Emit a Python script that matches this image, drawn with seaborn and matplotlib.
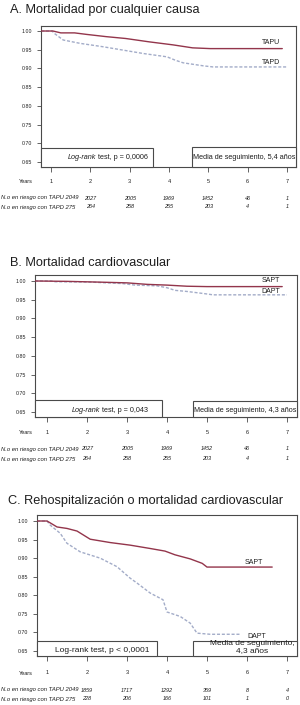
import numpy as np
import pandas as pd
import matplotlib
matplotlib.use("Agg")
import matplotlib.pyplot as plt
import matplotlib.transforms as mtrans
from matplotlib.patches import Rectangle
from matplotlib.text import Annotation
import seaborn as sns

# ---------------- data ----------------
years = [1, 2, 3, 4, 5, 6, 7]
risk_years = [2, 3, 4, 5, 6, 7]
yticks = [0.65, 0.70, 0.75, 0.80, 0.85, 0.90, 0.95, 1.00]

# Panel A
a_single_t = [0.75, 1.05, 1.25, 1.6, 1.9, 2.4, 2.9, 3.5, 4.1, 4.6, 5.05, 6.88]
a_single_s = [1.000, 1.000, 0.995, 0.995, 0.991, 0.985, 0.980, 0.971, 0.963, 0.955, 0.953, 0.953]
a_dual_t = [0.75, 1.03, 1.08, 1.31, 1.74, 2.32, 2.83, 3.34, 3.95, 4.16, 4.36, 4.87, 5.12, 7.0]
a_dual_s = [1.000, 1.000, 0.994, 0.976, 0.967, 0.958, 0.949, 0.940, 0.931, 0.922, 0.915, 0.907, 0.904, 0.904]

# Panel B
b_single_t = [0.70, 1.5, 2.3, 3.0, 3.5, 4.0, 4.5, 5.0, 6.88]
b_single_s = [1.000, 0.999, 0.997, 0.995, 0.991, 0.989, 0.986, 0.985, 0.985]
b_dual_t = [0.70, 1.1, 1.2, 2.1, 2.9, 3.2, 3.75, 4.0, 4.2, 4.5, 4.95, 5.15, 7.0]
b_dual_s = [1.000, 1.000, 0.998, 0.997, 0.993, 0.989, 0.987, 0.982, 0.975, 0.972, 0.966, 0.963, 0.963]

# Panel C
c_single_t = [0.75, 1.0, 1.08, 1.25, 1.5, 1.75, 2.08, 2.58, 3.08, 3.58, 3.95, 4.2, 4.58, 4.88, 5.0, 6.63]
c_single_s = [1.000, 1.000, 0.995, 0.984, 0.980, 0.973, 0.951, 0.942, 0.935, 0.926, 0.919, 0.909, 0.898, 0.886, 0.876, 0.876]
c_dual_t = [0.75, 1.0, 1.08, 1.33, 1.5, 1.83, 2.33, 2.75, 3.08, 3.25, 3.58, 3.9, 4.0, 4.33, 4.58, 4.75, 5.08, 5.85]
c_dual_s = [1.000, 1.000, 0.989, 0.967, 0.940, 0.917, 0.900, 0.877, 0.846, 0.833, 0.806, 0.788, 0.755, 0.743, 0.725, 0.698, 0.695, 0.695]

risk_a_single = [2027, 2005, 1969, 1452, 46, 1]
risk_a_dual = [264, 258, 255, 203, 4, 1]
risk_b_single = [2027, 2005, 1969, 1452, 46, 1]
risk_b_dual = [264, 258, 255, 203, 4, 1]
risk_c_single = [1859, 1717, 1292, 359, 8, 4]
risk_c_dual = [228, 206, 166, 101, 1, 0]

titles = ["A. Mortalidad por cualquier causa",
          "B. Mortalidad cardiovascular",
          "C. Rehospitalización o mortalidad cardiovascular"]
curve_labels = [("TAPU", "TAPD"), ("SAPT", "DAPT"), ("SAPT", "DAPT")]
pvals = ["p = 0,0006", "p = 0,043", "p < 0,0001"]
followups = ["Media de seguimiento, 5,4 años",
             "Media de seguimiento, 4,3 años",
             "Media de seguimiento,\n4,3 años"]
risk_row_labels = ["N.o en riesgo con TAPU 2049", "N.o en riesgo con TAPD 275"]

series = [(a_single_t, a_single_s, a_dual_t, a_dual_s),
          (b_single_t, b_single_s, b_dual_t, b_dual_s),
          (c_single_t, c_single_s, c_dual_t, c_dual_s)]
risks = [(risk_a_single, risk_a_dual), (risk_b_single, risk_b_dual), (risk_c_single, risk_c_dual)]

# ---------------- style ----------------
sns.set_theme(style="white")
plt.rcParams["font.family"] = ["Liberation Sans", "DejaVu Sans"]

W, H = 300, 705
fig = plt.figure(figsize=(W / 100, H / 100), dpi=100)
fig.patch.set_facecolor("white")

def fx(px):
    return px / W

def fy(py):
    return 1 - py / H

RED = "#93354b"
BLUE = "#a3acc8"
EDGE = "#4a4a4a"
TXT = "#1e1e1e"

# layout (pixels)
layout = [
    dict(box=(41, 26, 296, 167), xlim=(0.746, 7.229), ylim=(0.6366, 1.0134),
         title_x=10, title_base=12.5, tickpad=5.0, risk_y=(198, 207),
         lab1=(271, 43), lab2=(271, 63),
         lr_box=(153, 148), lr_x=68, lr_y=157.5, lr_fs=5.2, lr_italic=True,
         fu_box=(192, 147), fu_xy=(244.5, 157.5), fu_fs=5.2),
    dict(box=(35, 275, 297, 417), xlim=(0.70, 7.25), ylim=(0.6366, 1.016),
         title_x=10, title_base=265.7, tickpad=5.4, risk_y=(449, 459),
         lab1=(271, 281), lab2=(271, 291),
         lr_box=(162, 400), lr_x=72, lr_y=411, lr_fs=5.2, lr_italic=True,
         fu_box=(193, 401), fu_xy=(245, 411), fu_fs=5.2),
    dict(box=(37, 515, 297, 656), xlim=(0.75, 7.25), ylim=(0.6365, 1.0162),
         title_x=8, title_base=504.3, tickpad=6.8, risk_y=(690, 699),
         lab1=(254, 562), lab2=(257, 637),
         lr_box=(157, 641), lr_x=55, lr_y=650, lr_fs=6.0, lr_italic=False,
         fu_box=(193, 641), fu_xy=(252, 647), fu_fs=6.0),
]

for i, L in enumerate(layout):
    l, t, r, b = L["box"]
    ax = fig.add_axes([fx(l), fy(b), (r - l) / W, (b - t) / H])
    st, ss, dt, ds = series[i]
    df = pd.concat([
        pd.DataFrame({"t": st, "s": ss, "g": "single"}),
        pd.DataFrame({"t": dt, "s": ds, "g": "dual"}),
    ], ignore_index=True)
    sns.lineplot(data=df, x="t", y="s", hue="g", style="g",
                 palette={"single": RED, "dual": BLUE},
                 dashes={"single": "", "dual": (2.2, 1.3)},
                 estimator=None, sort=False, legend=False, ax=ax,
                 linewidth=1.0)
    for ln in ax.get_lines():
        if ln.get_linestyle() == "-":
            ln.set_zorder(3)
    ax.set_xlim(*L["xlim"])
    ax.set_ylim(*L["ylim"])
    ax.set_xlabel("")
    ax.set_ylabel("")
    ax.set_yticks(yticks)
    ax.set_yticklabels([f"{v:.2f}" for v in yticks])
    ax.set_xticks(years)
    ax.set_xticklabels([str(y) for y in years])
    for sp in ax.spines.values():
        sp.set_color(EDGE)
        sp.set_linewidth(0.8)
    ax.tick_params(axis="y", left=True, length=3.0, width=0.6, pad=3.5,
                   labelsize=3.8, colors=EDGE, labelcolor=TXT)
    ax.tick_params(axis="x", bottom=True, length=3.6, width=0.6, pad=L["tickpad"],
                   labelsize=4.0, colors=EDGE, labelcolor=TXT)

    # title
    fig.text(fx(L["title_x"]), fy(L["title_base"]), titles[i], fontsize=9.2,
             color=TXT, ha="left", va="baseline")

    # curve labels
    c1, c2 = curve_labels[i]
    fig.text(fx(L["lab1"][0]), fy(L["lab1"][1]), c1, fontsize=5.0, color=TXT,
             ha="center", va="center")
    fig.text(fx(L["lab2"][0]), fy(L["lab2"][1]), c2, fontsize=5.0, color=TXT,
             ha="center", va="center", zorder=5)

    # log-rank box
    lbx, lby = L["lr_box"]
    fig.add_artist(Rectangle((fx(l), fy(b)), (lbx - l) / W, (b - lby) / H,
                             transform=fig.transFigure, facecolor="white",
                             edgecolor=EDGE, linewidth=0.8, zorder=4))
    if L["lr_italic"]:
        t1 = fig.text(fx(L["lr_x"]), fy(L["lr_y"]), "Log-rank", fontsize=L["lr_fs"],
                      style="italic", color=TXT, ha="left", va="center", zorder=5)
        t2 = Annotation(" test, " + pvals[i], xy=(1, 0), xycoords=t1,
                        fontsize=L["lr_fs"], color=TXT, ha="left", va="bottom",
                        annotation_clip=False)
        t2.set_zorder(6)
        fig.add_artist(t2)
    else:
        fig.text(fx(L["lr_x"]), fy(L["lr_y"]), "Log-rank test, " + pvals[i],
                 fontsize=L["lr_fs"], color=TXT, ha="left", va="center", zorder=5)

    # follow-up box
    fbx, fby = L["fu_box"]
    fig.add_artist(Rectangle((fx(fbx), fy(b)), (r - fbx) / W, (b - fby) / H,
                             transform=fig.transFigure, facecolor="white",
                             edgecolor=EDGE, linewidth=0.8, zorder=4))
    fig.text(fx(L["fu_xy"][0]), fy(L["fu_xy"][1]), followups[i], fontsize=L["fu_fs"],
             color=TXT, ha="center", va="center", linespacing=0.95, zorder=5)

    # Years label
    xl_y = b + 3.6 / 0.72 + L["tickpad"] / 0.72 + 2.8
    fig.text(fx(33), fy(xl_y), "Years", fontsize=4.0, color=TXT, ha="right", va="center")

    # number at risk table
    tr = mtrans.blended_transform_factory(ax.transData, fig.transFigure)
    for row, (lab, vals) in enumerate(zip(risk_row_labels, risks[i])):
        ry = fy(L["risk_y"][row])
        fig.text(fx(1), ry, lab, fontsize=4.2, style="italic", color=TXT,
                 ha="left", va="center")
        for yv, n in zip(risk_years, vals):
            ax.text(yv, ry, str(n), transform=tr, fontsize=4.0, style="italic",
                    color=TXT, ha="center", va="center", clip_on=False)

fig.savefig("out.png", dpi=100, facecolor="white")
